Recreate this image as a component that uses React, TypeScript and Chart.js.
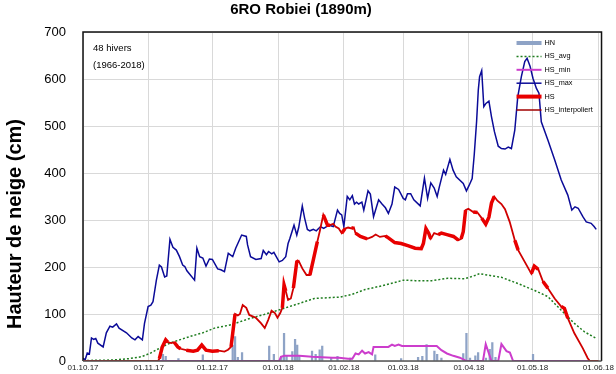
import React, { useEffect, useRef } from 'react';
import { Chart, registerables } from 'chart.js';

Chart.register(...registerables);

const FONT = '"Liberation Sans", Arial, sans-serif';

const chartTitle = '6RO Robiei (1890m)';
const yAxisTitle = 'Hauteur de neige (cm)';
const noteLines = ['48 hivers', '(1966-2018)'];

// x positions are days since 01.10.17
const monthDays = [0, 31, 61, 92, 123, 151, 182, 212, 243];
const monthLabels = ['01.10.17', '01.11.17', '01.12.17', '01.01.18', '01.02.18', '01.03.18', '01.04.18', '01.05.18', '01.06.18'];
const yTickValues = [0, 100, 200, 300, 400, 500, 600, 700];

const hnBars: [number, number][] = [
  [37.7, 14], [39, 10], [45, 5], [56.5, 13], [70.6, 34], [71.7, 52], [73, 8], [75, 18],
  [87.8, 32], [90, 14], [93.5, 8], [94.8, 59], [96, 12], [98.7, 20], [100, 46], [101, 34],
  [102, 11], [108, 21], [109.7, 14], [111.6, 24], [112.8, 32], [117, 8], [120, 10], [126, 6],
  [137.8, 13], [150, 5], [158, 8], [160, 10], [162, 35], [165.7, 21], [167, 14], [169, 6],
  [179.3, 16], [180.8, 59], [182.5, 6], [185, 11], [186.3, 18], [190, 6], [191.8, 25],
  [193, 39], [194.5, 8], [212.2, 14],
];

const hsAvg: [number, number][] = [
  [0, 1], [14, 2], [21.6, 5], [27.5, 9], [31.5, 16], [36, 27], [41, 38], [45.5, 45], [51.8, 54],
  [56.5, 60], [62, 70], [69.8, 77], [77.6, 89], [85.4, 99], [93.3, 110], [101, 121], [109, 133],
  [116.8, 135], [121.4, 136], [127, 142], [133, 152], [141, 160], [151, 172], [156.6, 171],
  [164.5, 171], [172, 176], [180, 175], [185.6, 183], [187, 186], [190.5, 183], [197.3, 178],
  [205, 165], [213, 150], [219.2, 137], [225.5, 108], [231.7, 80], [236.5, 62], [242, 48],
];

const hsMin: [number, number][] = [
  [0, 0], [92.5, 0], [93.3, 9], [95, 11], [102, 11], [108, 9], [117.5, 7], [120.7, 7], [125, 5],
  [127, 5], [128.5, 16], [130, 14], [131.6, 22], [133, 16], [134.7, 19], [136.3, 14], [137, 30],
  [144, 30], [145.7, 35], [147, 32], [148.8, 35], [150.4, 32], [166.8, 32], [169, 23],
  [171.6, 16], [174.6, 11], [177.7, 7], [180, 2], [181, 0], [188.6, 0], [189.9, 36], [192.6, 0],
  [195.8, 0], [197.3, 36], [199.7, 21], [201.3, 18], [202.8, 0], [243, 0],
];

const hsMax: [number, number][] = [
  [0, 6], [1, 2], [2, 17], [3, 15], [4, 49], [5, 46], [6, 48], [7, 38], [9.5, 30], [11, 60],
  [12.7, 74], [14, 72], [15.8, 79], [17, 70], [20.5, 60], [23, 49], [24.5, 45], [26, 52], [28, 45],
  [29, 80], [30.7, 116], [32, 119], [33, 126], [34.6, 172], [36, 204], [37, 200], [38.5, 179],
  [39.5, 181], [41, 259], [42.4, 242], [44, 236], [45.5, 222], [47, 204], [48, 201], [49, 192],
  [52.6, 172], [53.7, 240], [55, 222], [56.5, 219], [58, 202], [59.6, 217], [61, 216], [63.5, 196],
  [65, 194], [66.7, 190], [68.5, 229], [70.6, 222], [72, 240], [73.7, 257], [74.8, 268], [77, 265],
  [77.6, 247], [79, 222], [81.5, 216], [84, 218], [85, 235], [86.5, 226], [87.5, 233], [89, 228],
  [90, 231], [92.5, 211], [94, 214], [95.6, 222], [96.7, 250], [97.5, 260], [99.5, 289],
  [100.8, 268], [101.7, 284], [103.4, 330], [104.5, 304], [105.8, 280], [107, 277], [108.6, 280],
  [110, 277], [112, 286], [113.5, 282], [116, 289], [118, 286], [120, 321], [121, 314], [122, 311],
  [123, 286], [124.6, 350], [125.8, 343], [127, 352], [128, 334], [129, 338], [130, 334],
  [131.5, 338], [132.4, 321], [134.4, 362], [135.5, 355], [137, 307], [139.4, 343], [141, 334],
  [142.6, 326], [144, 314], [145.7, 334], [147, 370], [148.8, 365], [151, 346], [152, 343],
  [153, 356], [154.5, 356], [156, 343], [159, 330], [161, 389], [162.5, 346], [164, 379],
  [165.6, 368], [167, 350], [168, 370], [170, 406], [171, 397], [173, 429], [174.5, 406], [176, 392],
  [179.3, 378], [180.8, 362], [182, 373], [183.5, 388], [184.5, 440], [185.6, 510], [186.4, 577],
  [187, 605], [188, 618], [189, 541], [190, 548], [191.4, 553], [192.6, 520], [194, 488],
  [195.8, 457], [197.3, 452], [199, 451], [200.5, 455], [202, 452], [203.6, 491], [205, 562],
  [206.7, 605], [208.3, 637], [209.4, 644], [210.8, 627], [212.2, 601], [213.8, 580], [215, 570],
  [216.1, 509], [219.2, 470], [222.4, 428], [225.5, 385], [228.6, 353], [230.5, 321], [232, 328],
  [233.5, 325], [235.7, 307], [237.3, 296], [239.6, 293], [241, 286], [242, 280],
];

const hs: [number, number][] = [
  [0, 0], [35.4, 0], [36, 5], [37.4, 30], [39, 45], [40, 40], [41.6, 38], [43, 40], [44.7, 30],
  [46, 26], [48.7, 23], [52, 21], [54, 23], [56, 34], [58, 23], [61, 21], [64, 22], [66.7, 20],
  [68.4, 24], [69.8, 30], [70.6, 59], [71.7, 100], [73, 97], [74, 100], [75.3, 119], [77, 113],
  [78.4, 98], [80, 95], [81.5, 92], [84, 80], [85.7, 70], [87.3, 87], [88.9, 107], [90.5, 102],
  [91.7, 92], [93, 102], [94, 113], [94.8, 162], [95.6, 149], [96.7, 130], [98, 133], [99.2, 155],
  [100.8, 211], [101.7, 213], [103.4, 197], [105.4, 183], [107, 183], [108.6, 215], [110.5, 254],
  [111.7, 277], [113.3, 311], [114.4, 299], [115.3, 289], [116.5, 289], [118, 292], [119, 286],
  [120.6, 282], [122, 272], [123.6, 282], [125, 284], [126.7, 282], [127.7, 284], [128.5, 272],
  [130.8, 265], [134, 260], [136.3, 264], [138, 269], [140, 264], [142.6, 266], [144, 262],
  [147, 252], [150, 250], [153.5, 245], [156.6, 240], [159.5, 239], [160.5, 250], [161.7, 282],
  [163, 272], [164, 260], [165.6, 272], [167.5, 269], [169, 272], [171.6, 269], [174.7, 265],
  [177, 257], [178.3, 260], [179.3, 275], [180.4, 321], [181.7, 324], [184, 317], [186, 316],
  [188, 304], [189.9, 291], [191.4, 306], [192.6, 336], [193.9, 350], [195.4, 341], [197.3, 334],
  [199, 323], [201.2, 296], [203.6, 257], [205.2, 236], [208.3, 211], [211.4, 186], [212.8, 202],
  [214.7, 195], [216.9, 169], [219.2, 155], [222.4, 133], [225.5, 116], [227, 112], [228.6, 91],
  [231.7, 59], [235.7, 27], [238, 6], [239, 0], [243, 0],
];

// day ranges where HS was measured (thick line); elsewhere interpolated
const hsMeasuredRanges: [number, number][] = [
  [36, 40], [43, 47], [50, 55], [57, 63], [69.5, 72], [94, 96], [100, 102], [107, 110],
  [113, 117], [122, 124], [126, 128], [129, 135], [142, 159], [160, 164], [168, 176],
  [178, 181], [184, 186], [188, 194], [204, 206], [212, 215], [217, 219], [226, 228], [235, 236],
];

const COLORS = {
  hn: '#8ea3c6',
  avg: '#1f7d1f',
  min: '#cc3dcc',
  max: '#0b0b98',
  hs: '#e80000',
  interp: '#d00000',
};

const legendItems = [
  { label: 'HN', color: COLORS.hn, width: 4, dash: [] as number[] },
  { label: 'HS_avg', color: COLORS.avg, width: 1.5, dash: [2, 2] },
  { label: 'HS_min', color: COLORS.min, width: 2, dash: [] as number[] },
  { label: 'HS_max', color: COLORS.max, width: 1.5, dash: [] as number[] },
  { label: 'HS', color: COLORS.hs, width: 4, dash: [] as number[] },
  { label: 'HS_interpoliert', color: '#a00000', width: 1.5, dash: [] as number[] },
];

const toXY = (arr: [number, number][]) => arr.map(([x, y]) => ({ x, y }));

const inMeasured = (a: number, b: number) => {
  const m = (a + b) / 2;
  return hsMeasuredRanges.some(([s, e]) => m >= s && m <= e);
};

const decorPlugin = {
  id: 'decor',
  afterDatasetsDraw(chart: any) {
    const { ctx, chartArea } = chart;
    const { left, top, right, bottom } = chartArea;
    ctx.save();
    // frame
    ctx.strokeStyle = '#111';
    ctx.lineWidth = 1.5;
    ctx.beginPath();
    ctx.moveTo(left, bottom);
    ctx.lineTo(left, top);
    ctx.lineTo(right, top);
    ctx.lineTo(right, bottom);
    ctx.stroke();
    ctx.strokeStyle = '#555';
    ctx.beginPath();
    ctx.moveTo(left, bottom);
    ctx.lineTo(right, bottom);
    ctx.stroke();

    // notes
    ctx.fillStyle = '#000';
    ctx.font = `9.5px ${FONT}`;
    ctx.textBaseline = 'middle';
    ctx.textAlign = 'left';
    ctx.fillText(noteLines[0], left + 10, top + 16);
    ctx.fillText(noteLines[1], left + 10, top + 33);

    // legend
    const lx0 = right - 85;
    const lx1 = right - 60;
    let ly = top + 11;
    ctx.font = `7.3px ${FONT}`;
    legendItems.forEach((it) => {
      ctx.strokeStyle = it.color;
      ctx.lineWidth = it.width;
      ctx.setLineDash(it.dash);
      ctx.beginPath();
      ctx.moveTo(lx0, ly);
      ctx.lineTo(lx1, ly);
      ctx.stroke();
      ctx.setLineDash([]);
      ctx.fillStyle = '#000';
      ctx.fillText(it.label, lx1 + 3, ly);
      ly += 13.4;
    });
    ctx.restore();
  },
  afterDraw(chart: any) {
    const { ctx } = chart;
    ctx.save();
    ctx.translate(15, 224);
    ctx.rotate(-Math.PI / 2);
    ctx.font = `bold 20px ${FONT}`;
    ctx.fillStyle = '#000';
    ctx.textAlign = 'center';
    ctx.textBaseline = 'middle';
    ctx.fillText(yAxisTitle, 0, 0);
    ctx.restore();
  },
};

export default function App() {
  const ref = useRef<HTMLCanvasElement>(null);
  useEffect(() => {
    const chart = new Chart(ref.current as HTMLCanvasElement, {
      type: 'line',
      data: {
        datasets: [
          {
            type: 'bar',
            label: 'HN',
            data: toXY(hnBars),
            backgroundColor: COLORS.hn,
            barThickness: 1.6,
            order: 10,
          } as any,
          {
            label: 'HS_avg',
            data: toXY(hsAvg),
            borderColor: COLORS.avg,
            borderWidth: 1.5,
            borderDash: [2, 2],
            pointRadius: 0,
            order: 5,
          },
          {
            label: 'HS_min',
            data: toXY(hsMin),
            borderColor: COLORS.min,
            borderWidth: 2,
            pointRadius: 0,
            order: 3,
          },
          {
            label: 'HS_max',
            data: toXY(hsMax),
            borderColor: COLORS.max,
            borderWidth: 1.5,
            pointRadius: 0,
            order: 4,
          },
          {
            label: 'HS',
            data: toXY(hs),
            borderColor: COLORS.hs,
            borderWidth: 3.5,
            pointRadius: 0,
            order: 1,
            segment: {
              borderColor: (c: any) => (inMeasured(c.p0.parsed.x, c.p1.parsed.x) ? COLORS.hs : 'rgba(0,0,0,0)'),
            },
          },
          {
            label: 'HS_interpoliert',
            data: toXY(hs),
            borderColor: COLORS.interp,
            borderWidth: 1.8,
            pointRadius: 0,
            order: 2,
          },
        ],
      },
      options: {
        animation: false,
        responsive: false,
        devicePixelRatio: 1,
        layout: { padding: { left: 0, right: 14, top: 0, bottom: 0 } },
        plugins: {
          legend: { display: false },
          tooltip: { enabled: false },
          title: {
            display: true,
            text: chartTitle,
            color: '#000',
            font: { family: FONT, size: 15, weight: 'bold' },
            padding: { top: 1, bottom: 13 },
          },
        },
        scales: {
          x: {
            type: 'linear',
            min: 0,
            max: 244.5,
            offset: false,
            afterBuildTicks: (s: any) => {
              s.ticks = monthDays.map((v) => ({ value: v }));
            },
            afterFit: (s: any) => {
              s.height = 13;
            },
            ticks: {
              autoSkip: false,
              maxRotation: 0,
              padding: 2,
              color: '#222',
              font: { family: FONT, size: 8 },
              callback: (v: any) => {
                const i = monthDays.indexOf(Number(v));
                return i >= 0 ? monthLabels[i] : '';
              },
            },
            grid: { color: '#d9d9d9', drawTicks: false, offset: false },
            border: { display: false },
          },
          y: {
            min: 0,
            max: 700,
            afterBuildTicks: (s: any) => {
              s.ticks = yTickValues.map((v) => ({ value: v }));
            },
            afterFit: (s: any) => {
              s.width = 83;
              s.paddingTop = 0;
              s.paddingBottom = 0;
            },
            ticks: {
              padding: 17,
              color: '#000',
              font: { family: FONT, size: 13 },
            },
            grid: { color: '#d9d9d9', drawTicks: false },
            border: { display: false },
          },
        },
      },
      plugins: [decorPlugin],
    } as any);
    return () => chart.destroy();
  }, []);
  return (
    <div style={{ position: 'absolute', left: 0, top: 0, width: 616, height: 374 }}>
      <canvas ref={ref} width={616} height={374} style={{ display: 'block' }} />
    </div>
  );
}
